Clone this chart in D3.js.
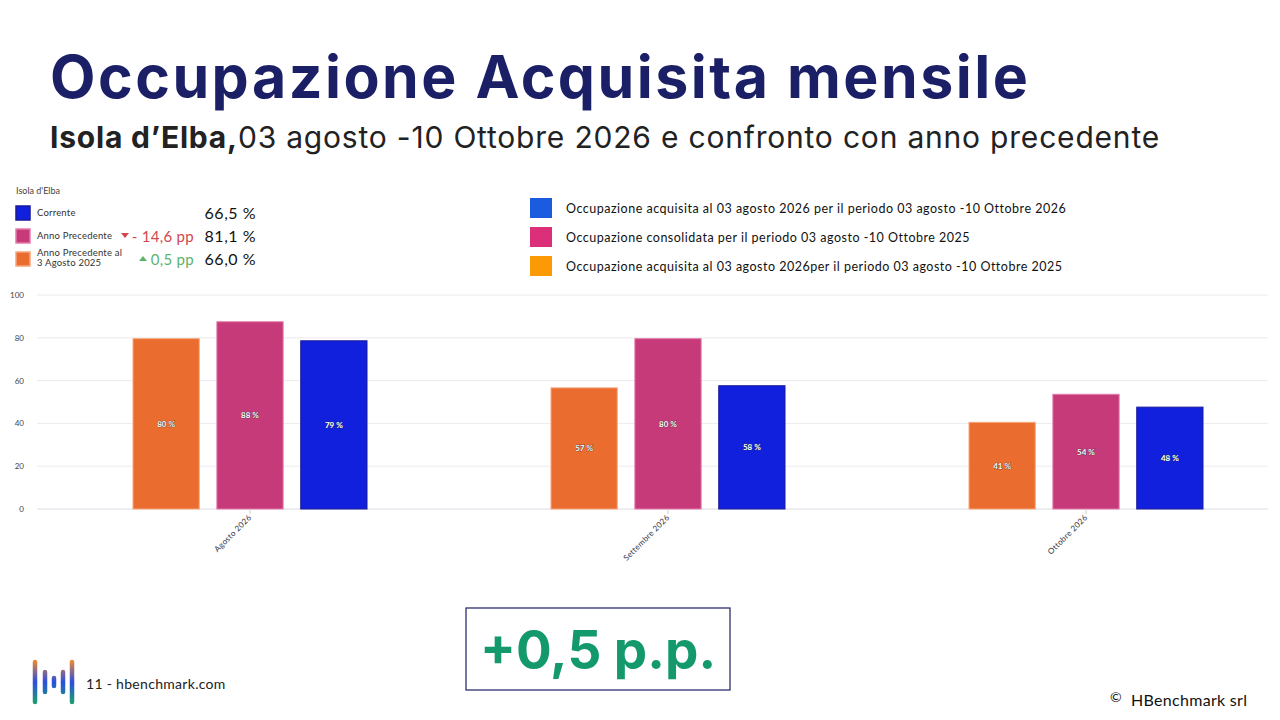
<!DOCTYPE html><html><head><meta charset="utf-8"><script src="https://cdn.jsdelivr.net/npm/d3@7"></script>
<style>body{margin:0;background:#fff;font-family:Lato,"Open Sans",sans-serif}</style></head><body><svg id="c" width="1280" height="720"></svg>
<script>
const categories=["Agosto 2026","Settembre 2026","Ottobre 2026"];
const series=["prev03","prev","curr"];
const prev03=[79.6,56.6,40.5];
const prev=[87.5,79.6,53.6];
const curr=[78.6,57.6,47.6];
const yTicks=[0,20,40,60,80,100];
const colors={prev03:"#EA6C2F",prev:"#C73A7A",curr:"#1020DC"};
const strokes={prev03:"#f7a77d",prev:"#e37bab",curr:"#1a1a9a"};
const vals={prev03,prev,curr};
const svg=d3.select("#c");
svg.append("text").attr("x",50).attr("y",98).attr("font-size",59).attr("letter-spacing",2.5).attr("font-weight",700).attr("fill","#1b1f66").attr("font-family","Inter,Lato,sans-serif").text("Occupazione Acquisita mensile");
const st=svg.append("text").attr("x",50).attr("y",148).attr("font-size",30).attr("letter-spacing",0.8).attr("fill","#222").attr("font-family","Inter,Lato,sans-serif");
st.append("tspan").attr("font-weight",700).text("Isola d’Elba,");st.append("tspan").text("03 agosto -10 Ottobre 2026 e confronto con anno precedente");
svg.append("text").attr("x",16).attr("y",194).attr("font-size",9).attr("fill","#444").text("Isola d'Elba");
const ll=[{k:"curr",t:["Corrente"],v:"66,5 %",y:213},{k:"prev",t:["Anno Precedente"],v:"81,1 %",y:236,d:"- 14,6 pp",dc:"#d0474f",up:false},{k:"prev03",t:["Anno Precedente al","3 Agosto 2025"],v:"66,0 %",y:259,d:"0,5 pp",dc:"#5cb36b",up:true}];
ll.forEach(o=>{svg.append("rect").attr("x",16).attr("y",o.y-7).attr("width",14).attr("height",14).attr("fill",colors[o.k]).attr("stroke",strokes[o.k]).attr("stroke-width",1.5);
 o.t.forEach((s,i)=>svg.append("text").attr("x",37).attr("y",o.y+(o.t.length>1?-3+i*10:3)).attr("font-size",9.5).attr("letter-spacing",0.2).attr("fill","#333").text(s));
 svg.append("text").attr("x",256).attr("y",o.y+6).attr("text-anchor","end").attr("font-size",16).attr("letter-spacing",0.5).attr("fill","#111").text(o.v);
 if(o.d){svg.append("text").attr("x",194).attr("y",o.y+6).attr("text-anchor","end").attr("font-size",15).attr("letter-spacing",0.3).attr("fill",o.dc).text(o.d);
  const tx=o.up?143:125;svg.append("path").attr("d",o.up?`M${tx-4},${o.y+2}L${tx+4},${o.y+2}L${tx},${o.y-3}Z`:`M${tx-4},${o.y-3}L${tx+4},${o.y-3}L${tx},${o.y+2}Z`).attr("fill",o.dc);}
});
const rl=[{c:"#1a5be0",t:"Occupazione acquisita al  03 agosto 2026 per il periodo 03 agosto -10 Ottobre 2026",y:208},{c:"#dc2f7a",t:"Occupazione consolidata per il periodo 03 agosto -10 Ottobre 2025",y:237},{c:"#fb9a06",t:"Occupazione acquisita al 03 agosto 2026per il periodo 03 agosto -10 Ottobre 2025",y:266}];
rl.forEach(o=>{svg.append("rect").attr("x",530).attr("y",o.y-10).attr("width",22).attr("height",20).attr("fill",o.c);
 svg.append("text").attr("x",566).attr("y",o.y+5).attr("font-size",12.5).attr("letter-spacing",0.5).attr("fill","#111").text(o.t);});
const y=d3.scaleLinear().domain([0,100]).range([509,295]);
const x=d3.scaleBand().domain(categories).range([41,1295]);
const xs=d3.scaleBand().domain(series).range([0,234]).paddingInner(0.21);
const g=svg.append("g");
g.selectAll(".gl").data(yTicks).join("line").attr("x1",37).attr("x2",1268).attr("y1",d=>y(d)).attr("y2",d=>y(d)).attr("stroke",d=>d===0?"#dcdce4":"#ececf0");
g.selectAll(".yl").data(yTicks).join("text").attr("x",24).attr("y",d=>y(d)+3).attr("text-anchor","end").attr("font-size",8).attr("fill","#444").text(d=>d);
categories.forEach((c,i)=>{const x0=x(c)+x.bandwidth()/2-117;
 series.forEach(s=>{const v=vals[s][i];
  g.append("rect").attr("x",x0+xs(s)).attr("y",y(v)).attr("width",xs.bandwidth()).attr("height",y(0)-y(v)).attr("fill",colors[s]).attr("stroke",strokes[s]).attr("stroke-width",1);
  g.append("text").attr("x",x0+xs(s)+xs.bandwidth()/2).attr("y",(y(v)+y(0))/2+3).attr("text-anchor","middle").attr("font-size",8).attr("font-weight",700).attr("fill","#fff").attr("stroke","#333").attr("stroke-width",0.6).attr("paint-order","stroke").text(Math.round(v)+" %");});
 const cx=x(c)+x.bandwidth()/2;
 g.append("line").attr("x1",cx).attr("x2",cx).attr("y1",509).attr("y2",514).attr("stroke","#ccc");
 g.append("text").attr("transform",`translate(${cx+2},${518}) rotate(-45)`).attr("text-anchor","end").attr("font-size",8).attr("letter-spacing",0.3).attr("fill","#334").text(c);
});
svg.append("rect").attr("x",466).attr("y",608).attr("width",264).attr("height",82).attr("fill","#fff").attr("stroke","#1b1f66").attr("stroke-width",1.2);
svg.append("text").attr("x",598).attr("y",669).attr("text-anchor","middle").attr("font-size",53).attr("font-weight",700).attr("fill","#13996b").attr("font-family","Inter,Lato,sans-serif").text("+0,5 p.p.");
const gr=svg.append("defs").append("linearGradient").attr("id","lg").attr("gradientUnits","userSpaceOnUse").attr("x1",0).attr("y1",660).attr("x2",0).attr("y2",704);
gr.append("stop").attr("offset",0).attr("stop-color","#f08a2a");gr.append("stop").attr("offset",0.5).attr("stop-color","#2a4fe0");gr.append("stop").attr("offset",1).attr("stop-color","#1aa06a");
[[35,662,702],[45,672,692],[54,678,686],[63,672,692],[72,662,702]].forEach(b=>svg.append("line").attr("x1",b[0]).attr("x2",b[0]).attr("y1",b[1]).attr("y2",b[2]).attr("stroke","url(#lg)").attr("stroke-width",4.5).attr("stroke-linecap","round"));
svg.append("text").attr("x",86).attr("y",689).attr("font-size",14).attr("letter-spacing",0.3).attr("fill","#222").text("11 - hbenchmark.com");
svg.append("text").attr("x",1110).attr("y",702).attr("font-size",14).attr("fill","#111").text("©");
svg.append("text").attr("x",1131).attr("y",706).attr("font-size",16).attr("letter-spacing",0.3).attr("fill","#111").text("HBenchmark srl");
</script></body></html>
